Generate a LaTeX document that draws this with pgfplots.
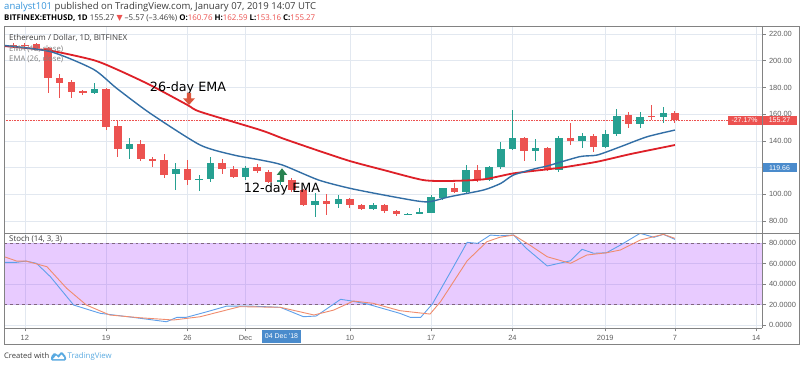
\documentclass[border=0pt]{standalone}
\usepackage{graphicx}
\usepackage{pgfplots}
\pgfplotsset{compat=1.18}
\usepackage{pgfplotstable}
\usepackage{fontspec}
\setmainfont{Open Sans}
\newfontfamily\dejavu{DejaVu Sans}
\newfontfamily\lib{Liberation Sans}
\definecolor{upc}{RGB}{38,160,145}
\definecolor{dnc}{RGB}{236,82,80}
\definecolor{emared}{RGB}{222,32,40}
\definecolor{emablue}{RGB}{50,110,165}
\definecolor{kc}{RGB}{95,160,235}
\definecolor{dc}{RGB}{240,140,110}
\definecolor{gridc}{RGB}{226,232,240}
\definecolor{framec}{RGB}{130,130,130}
\definecolor{tickc}{RGB}{95,95,95}
\definecolor{hdr}{RGB}{60,60,60}
\definecolor{tvblue}{RGB}{56,150,220}
\definecolor{boxblue}{RGB}{74,139,204}
\definecolor{lav}{RGB}{153,21,255}
\definecolor{arrred}{RGB}{220,85,60}
\definecolor{arrgreen}{RGB}{40,130,80}
\definecolor{logoc}{RGB}{90,170,225}

\pgfplotstableread{
d o h l c
-2 210.8 212.0 209.8 211.6
6 175.8 183.3 175.0 178.8
9 133.9 142.2 126.4 137.7
13 115.0 123.4 103.2 118.7
15 110.7 114.5 102.7 111.5
16 111.5 127.7 109.0 123.7
19 113.2 121.0 111.0 119.5
22 109.4 112.0 107.0 110.7
25 92.0 101.0 83.2 95.0
27 92.8 99.5 90.0 96.3
30 88.8 93.5 88.0 92.0
33 85.0 86.0 84.5 85.5
34 85.8 90.0 85.5 86.8
35 86.2 99.5 86.0 98.2
36 97.0 105.0 96.0 104.5
38 102.0 122.0 101.0 118.2
40 110.7 121.5 110.0 120.2
41 120.2 139.4 119.0 133.7
42 133.7 163.1 133.0 142.4
44 132.7 141.2 125.2 134.4
46 118.2 143.6 117.0 141.9
48 140.1 145.7 134.4 143.9
50 135.6 148.1 134.5 144.9
51 144.9 163.6 144.0 158.9
53 152.4 161.5 150.0 158.1
55 158.1 165.6 153.2 160.6
}\uptab

\pgfplotstableread{
d o h l c
-1 212.0 213.0 210.0 211.2
0 212.0 213.3 209.5 211.2
1 212.3 213.0 208.0 209.5
2 209.5 210.0 175.8 187.0
3 187.3 190.0 172.0 183.6
4 184.3 185.5 172.0 176.8
5 177.0 178.0 174.0 176.3
7 178.8 179.5 148.1 150.6
8 151.1 155.6 128.0 133.9
10 137.7 140.7 125.0 126.4
11 126.4 128.0 120.5 125.7
12 125.7 130.0 112.0 114.5
14 118.7 125.7 107.0 110.7
17 123.7 126.4 115.2 118.7
18 118.7 121.0 112.0 113.2
20 120.2 122.5 116.0 117.5
21 116.9 118.0 108.5 109.4
23 110.7 112.0 102.0 103.2
24 103.2 104.0 91.0 92.0
26 95.0 100.0 84.5 92.8
28 96.3 97.5 89.5 92.0
29 92.0 93.0 88.0 88.8
31 92.0 93.0 86.0 87.5
32 87.5 88.5 84.0 85.0
37 104.5 108.2 101.0 102.0
39 118.2 122.0 109.0 110.7
43 141.9 143.1 125.2 132.7
45 134.4 135.5 117.5 118.2
47 141.9 153.2 136.9 140.1
49 143.9 145.0 131.9 135.6
52 159.4 161.3 150.0 152.4
54 158.9 166.9 155.6 158.1
56 160.76 162.59 153.16 155.27
}\dntab

\pgfplotsset{
  tvbase/.style={
    scale only axis, width=758bp,
    xmin=-1.8, xmax=63.5,
    axis line style={draw=none},
    xtick={0,7,14,19,28,35,42,50,56,63},
    ytick pos=right, yticklabel pos=right,
    tick align=outside, major tick length=3.5bp,
    tick style={draw=framec, line width=0.6bp},
    grid=major, grid style={draw=gridc, line width=0.6bp},
    /pgf/number format/assume math mode=true,
    ticklabel style={font=\lib\fontsize{7.5}{9}\selectfont, text=tickc},
  },
  wick/.style={draw=none, mark=none, forget plot,
    error bars/.cd, y dir=both, y explicit, error mark=none,
    error bar style={draw=#1, line width=1bp}},
  body/.style={draw=none, mark=none, forget plot,
    error bars/.cd, y dir=both, y explicit, error mark=none,
    error bar style={draw=#1, line width=7.5bp}},
}

\begin{document}
\begin{tikzpicture}
\path[use as bounding box, fill=white] (0bp,0bp) rectangle (801bp,367bp);

% ---------- price panel ----------
\begin{axis}[tvbase,
  at={(4bp,134bp)}, anchor=south west, height=207bp,
  ymin=71.05, ymax=226,
  ytick={80,100,...,220},
  xticklabels={}, xtick style={draw=none},
  yticklabel style={/pgf/number format/.cd, fixed, fixed zerofill, precision=2},
]
\addplot[draw=dnc, densely dotted, line width=0.6bp, forget plot] coordinates {(-1.8,155.27) (63.5,155.27)};

\addplot[wick=upc] table[x=d, y expr={(\thisrow{h}+\thisrow{l})/2}, y error expr={(\thisrow{h}-\thisrow{l})/2}] {\uptab};
\addplot[body=upc] table[x=d, y expr={(\thisrow{o}+\thisrow{c})/2}, y error expr={max(abs(\thisrow{c}-\thisrow{o})/2,0.35)}] {\uptab};
\addplot[wick=dnc] table[x=d, y expr={(\thisrow{h}+\thisrow{l})/2}, y error expr={(\thisrow{h}-\thisrow{l})/2}] {\dntab};
\addplot[body=dnc] table[x=d, y expr={(\thisrow{o}+\thisrow{c})/2}, y error expr={max(abs(\thisrow{c}-\thisrow{o})/2,0.35)}] {\dntab};

% EMA 26
\addplot[emared, line width=1.8bp, smooth, tension=0.4] coordinates {
(-1.8,211.0) (2.2,207.5) (5.9,200.5) (7.9,193.6) (10.8,181.8) (14,166.9) (15.1,161.8)
(20.3,148.1) (22.2,141.9) (25.1,133.2) (28,124.9) (30.9,118.2) (34.3,110.7) (36.6,110.0)
(39.5,111.2) (42.1,115.7) (45,118.7) (46.4,120.2) (49.3,124.4) (52.2,130.2) (56,136.9)};
% EMA 12
\addplot[emablue, line width=1.4bp, smooth, tension=0.4] coordinates {
(-2.2,211.8) (2.2,206.8) (5.9,193.6) (7.9,179.4) (10.8,160.6) (15.1,136.9) (18.0,129.4)
(20.3,125.7) (22.2,121.9) (25.3,110.7) (28,104.5) (30.9,99.5) (33.8,95.0) (34.9,94.5)
(36.6,98.2) (39.5,103.2) (41,108.2) (42.1,114.5) (44.1,119.5) (45,121.2) (47.8,128.2)
(49.3,129.4) (51.3,135.6) (53.6,143.1) (56,148.1)};
\end{axis}

% ---------- stochastic panel ----------
\begin{axis}[tvbase,
  at={(4bp,39bp)}, anchor=south west, height=95bp,
  ymin=-2.9, ymax=89.8,
  ytick={0,20,...,80},
  xtick pos=bottom,
  xticklabels={12,19,26,Dec,10,17,24,2019,7,14},
  yticklabel style={/pgf/number format/.cd, fixed, fixed zerofill, precision=4},
]
\addplot[fill=lav, fill opacity=0.22, draw=none, forget plot] coordinates {(-1.8,20) (63.5,20) (63.5,80) (-1.8,80)} -- cycle;
\addplot[draw=gray!80!violet, dashed, line width=0.7bp, forget plot] coordinates {(-1.8,80) (63.5,80)};
\addplot[draw=gray!80!violet, dashed, line width=0.7bp, forget plot] coordinates {(-1.8,20) (63.5,20)};
% %K
\addplot[kc, line width=0.9bp] coordinates {
(-2.2,61.2) (-0.7,61.2) (0.1,62.4) (1.0,60.2) (2.2,47.1) (4.2,19.5) (6.5,11.4) (9.3,7.5)
(12.2,3.2) (13.1,7.5) (13.9,7.5) (15.7,13.0) (17.4,18.5) (19.4,18.5) (22,17.3) (24,8.1)
(25.1,8.8) (27.2,25.1) (28,23.7) (29.5,20.5) (32.3,11.4) (33.2,7.5) (34.1,7.5) (35.1,20.5)
(36.6,50.4) (38.1,80.7) (39,79.7) (40.1,87.8) (40.9,87.1) (42.1,87.8) (43.2,74.8) (45,57.6)
(47,62.7) (48,73.9) (49,70.0) (50.1,70.5) (51.3,78.0) (53,89.5) (54.2,85.6) (55,88.5) (56,83.6)};
% %D
\addplot[dc, line width=0.9bp] coordinates {
(-2.2,68.3) (-0.7,62.4) (0.1,62.4) (1.9,56.9) (3.6,35.8) (5.3,19.5) (7.3,9.8) (9.9,7.1)
(12.8,4.9) (15.1,8.1) (18.5,17.9) (22,17.3) (24.9,9.8) (26.6,14.6) (28.3,23.4) (30,21.2)
(32.3,14.0) (34.9,10.7) (35.8,22.7) (38.1,62.7) (39.8,81.3) (40.9,85.6) (42.1,87.8) (43.5,78.0)
(45,66.6) (47,60.2) (48.4,68.3) (50.1,70.5) (51.3,73.2) (53,82.9) (55,88.5) (56,84.6)};
\end{axis}

\begin{scope}[x=1bp,y=1bp]
% ---------- frame ----------
\draw[framec, line width=0.8bp] (4,23) rectangle (799.5,341);
\draw[framec, line width=0.8bp] (4,134) -- (799.5,134);
\draw[framec, line width=0.8bp] (762,39) -- (762,341);
\draw[framec, line width=0.8bp] (4,39) -- (762,39);

% ---------- labels on axis ----------
\node[fill=dnc, text=white, inner sep=0, minimum width=34bp, minimum height=9bp, font=\lib\fontsize{7}{8}\selectfont] at (744.5,246.5) {-27.17\%};
\node[fill=dnc, text=white, inner sep=0, minimum width=34bp, minimum height=9bp, font=\lib\fontsize{7}{8}\selectfont] at (779.5,246.5) {155.27};
\node[fill=boxblue, text=white, inner sep=0, minimum width=34bp, minimum height=9bp, font=\lib\fontsize{7}{8}\selectfont] at (779.5,199) {119.66};
\node[fill=boxblue, text=white, inner sep=0, minimum width=39bp, minimum height=12bp, font=\lib\fontsize{7}{8}\selectfont] at (281.5,30.5) {04 Dec '18};

% ---------- legend texts ----------
\node[anchor=west, inner sep=0, text=hdr] at (9,329) {\resizebox{118bp}{!}{Ethereum / Dollar, 1D, BITFINEX}};
\node[anchor=west, inner sep=0, text=gray] at (9,318) {\resizebox{54bp}{!}{EMA (12, close)}};
\node[anchor=west, inner sep=0, text=gray] at (9,308) {\resizebox{54bp}{!}{EMA (26, close)}};
\node[anchor=west, inner sep=0, text=hdr] at (9,128) {\resizebox{53bp}{!}{Stoch (14, 3, 3)}};

% ---------- annotations ----------
\node[inner sep=0] at (188,279.5) {\resizebox{76bp}{!}{\dejavu 26-day EMA}};
\fill[arrred] (186.8,274) -- (191.2,274) -- (191.2,268.7) -- (195,268.7) -- (189,262) -- (183,268.7) -- (186.8,268.7) -- cycle;
\node[inner sep=0] at (282,178.3) {\resizebox{76bp}{!}{\dejavu 12-day EMA}};
\fill[arrgreen] (279.8,185.3) -- (284.2,185.3) -- (284.2,192) -- (287.3,192) -- (282,198.7) -- (276.7,192) -- (279.8,192) -- cycle;

% ---------- header ----------
\node[anchor=west, inner sep=0] at (4,360) {\resizebox{312bp}{!}{\textcolor{tvblue}{analyst101} \textcolor{hdr}{published on TradingView.com, January 07, 2019 14:07 UTC}}};
\node[anchor=west, inner sep=0] at (4,348.5) {\resizebox{311bp}{!}{\textcolor{black}{\textbf{BITFINEX:ETHUSD, 1D}} \textcolor{hdr}{155.27} {\dejavu\textcolor{dnc}{▼}} \textcolor{hdr}{–5.57 (–3.46\%)} \textbf{O:}\textcolor{dnc}{160.76} \textbf{H:}\textcolor{dnc}{162.59} \textbf{L:}\textcolor{dnc}{153.16} \textbf{C:}\textcolor{dnc}{155.27}}};

% ---------- footer ----------
\node[anchor=west, inner sep=0, text=hdr] at (4,11) {\resizebox{45bp}{!}{Created with}};
\fill[logoc, rounded corners=1.2bp] (51,6.5) -- (51,10.5) -- (54.5,14.5) -- (58,11.5) -- (61.5,15.5) -- (66,10.5) -- (66,6.5) -- cycle;
\fill[white] (53,8) -- (56,11.5) -- (58.5,9) -- (61.5,12.5) -- (64,9.5) -- (64,8) -- cycle;
\node[anchor=west, inner sep=0, text=logoc] at (67.5,11) {\resizebox{44bp}{!}{TradingView}};
\end{scope}
\end{tikzpicture}
\end{document}
